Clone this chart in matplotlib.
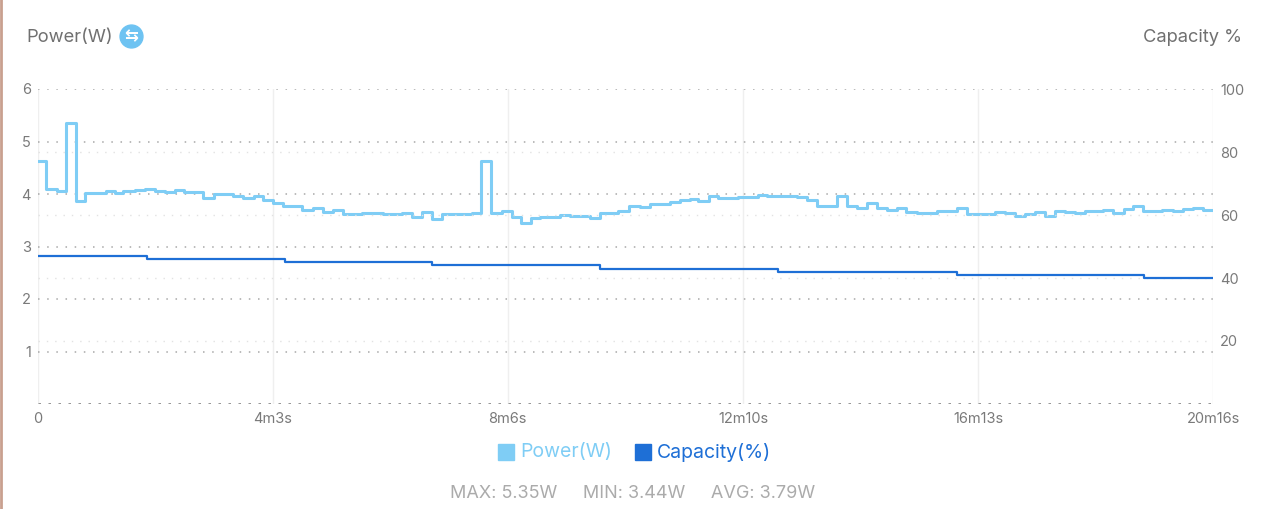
import numpy as np
import matplotlib.pyplot as plt
from matplotlib.lines import Line2D

plt.rcParams['font.family'] = ['Inter', 'DejaVu Sans']

# power samples: step start time (s) and value (W)
power_t = [0, 8, 20, 29, 39, 49, 70, 80, 88, 100, 111, 121, 131, 142, 151, 160,
           171, 182, 202, 212, 224, 233, 243, 254, 273, 285, 295, 305, 316, 335,
           357, 377, 387, 397, 408, 418, 449, 458, 469, 480, 491, 500, 510, 520,
           540, 551, 571, 582, 600, 612, 623, 633, 654, 664, 675, 683, 694, 704,
           724, 745, 754, 778, 785, 796, 806, 818, 827, 837, 848, 858, 868, 879,
           889, 898, 910, 930, 951, 961, 990, 1001, 1011, 1021, 1032, 1042, 1052,
           1063, 1073, 1084, 1102, 1113, 1124, 1133, 1144, 1163, 1175, 1185, 1195,
           1206, 1216]
power_w = [4.62, 4.10, 4.05, 5.35, 3.87, 4.01, 4.05, 4.02, 4.05, 4.08, 4.10, 4.06,
           4.03, 4.08, 4.03, 4.04, 3.92, 4.00, 3.96, 3.92, 3.96, 3.89, 3.83, 3.78,
           3.70, 3.73, 3.65, 3.70, 3.61, 3.63, 3.61, 3.63, 3.56, 3.65, 3.53, 3.61,
           3.63, 4.62, 3.64, 3.67, 3.57, 3.44, 3.54, 3.57, 3.60, 3.58, 3.54, 3.63,
           3.68, 3.78, 3.76, 3.81, 3.85, 3.89, 3.90, 3.86, 3.97, 3.92, 3.95, 3.99,
           3.96, 3.97, 3.94, 3.89, 3.77, 3.78, 3.96, 3.77, 3.73, 3.83, 3.73, 3.70,
           3.73, 3.65, 3.64, 3.68, 3.74, 3.62, 3.65, 3.63, 3.59, 3.61, 3.66, 3.58,
           3.68, 3.66, 3.64, 3.67, 3.69, 3.63, 3.72, 3.77, 3.68, 3.70, 3.67, 3.71,
           3.73, 3.70, 3.70]

# capacity steps
cap_t = [0, 113, 256, 408, 582, 766, 951, 1145, 1216]
cap_pct = [47, 46, 45, 44, 43, 42, 41, 40, 40]

x_ticks = [0, 243, 486, 730, 973, 1216]
x_labels = ['0', '4m3s', '8m6s', '12m10s', '16m13s', '20m16s']

c_power = '#7fcdf5'
c_cap = '#1e6fd6'
c_tick = '#7a7a7a'

fig = plt.figure(figsize=(12.69, 5.09), dpi=100)
ax = fig.add_axes([38 / 1269, 1 - 404 / 509, 1175 / 1269, 315 / 509])
ax2 = ax.twinx()

ax.set_xlim(0, 1216)
ax.set_ylim(0, 6)
ax2.set_ylim(0, 100)

# grids
for v in range(1, 7):
    ax.axhline(v, color='#a8a8a8', lw=1.1, ls=(0, (1, 5)), zorder=1)
for v in [20, 40, 60, 80]:
    ax2.axhline(v, color='#e2e2e2', lw=1, ls=(0, (1, 5)), zorder=1)
ax.axhline(0, color='#777777', lw=1.8, ls=(0, (1, 3)), zorder=1)
for t in x_ticks:
    ax.axvline(t, color='#efefef', lw=1, zorder=0)

ax.step(power_t, power_w, where='post', color=c_power, lw=2.2, zorder=3)
ax2.step(cap_t, cap_pct, where='post', color=c_cap, lw=1.6, zorder=3)

for a in (ax, ax2):
    for s in a.spines.values():
        s.set_visible(False)
    a.tick_params(length=0, colors=c_tick, labelsize=10.5)

ax.set_yticks(range(1, 7))
ax.set_yticklabels([str(v) for v in range(1, 7)])
ax.tick_params(axis='y', pad=5)
ax2.set_yticks([20, 40, 60, 80, 100])
ax2.tick_params(axis='y', pad=5)
ax.set_xticks(x_ticks)
ax.set_xticklabels(x_labels)
ax.tick_params(axis='x', pad=6)

# headers
fig.text(26 / 1269, 1 - 37 / 509, 'Power(W)', color='#707070', fontsize=13.2,
         ha='left', va='center')
fig.add_artist(Line2D([131 / 1269], [1 - 36 / 509], marker='o', markersize=16.5,
                      color='#6ec3f2', transform=fig.transFigure))
fig.text(131 / 1269, 1 - 36 / 509, '\u21c6', color='white', fontsize=12,
         ha='center', va='center', family='DejaVu Sans', weight='bold')
fig.text(1242 / 1269, 1 - 38 / 509, 'Capacity %', color='#707070', fontsize=13.2,
         ha='right', va='center')

# legend
ly = 1 - 452 / 509
fig.add_artist(Line2D([506 / 1269], [ly], marker='s', markersize=11,
                      color=c_power, transform=fig.transFigure))
fig.text(520 / 1269, ly, 'Power(W)', color=c_power, fontsize=14,
         ha='left', va='center')
fig.add_artist(Line2D([643 / 1269], [ly], marker='s', markersize=11,
                      color=c_cap, transform=fig.transFigure))
fig.text(657 / 1269, ly, 'Capacity(%)', color=c_cap, fontsize=14,
         ha='left', va='center')

fig.text(633 / 1269, 1 - 493 / 509,
         'MAX: 5.35W     MIN: 3.44W     AVG: 3.79W',
         color='#ababab', fontsize=13, ha='center', va='center')

# screenshot edge
fig.add_artist(Line2D([0.001, 0.001], [0, 1], color='#c9a08f', lw=2,
                      transform=fig.transFigure))

fig.savefig('out.png', dpi=100, facecolor='white')
